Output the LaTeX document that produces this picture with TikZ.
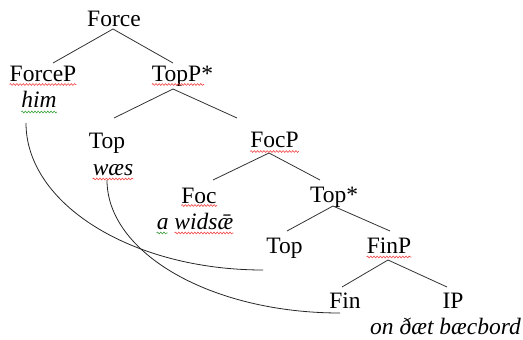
\documentclass[tikz,border=0pt]{standalone}
\usepackage{fontspec}
\setmainfont{Liberation Serif}
\usetikzlibrary{decorations.pathmorphing}
\begin{document}
\begin{tikzpicture}[x=1pt,y=1pt,
  lbl/.style={anchor=base,inner sep=0pt,font=\fontsize{23.5}{28}\selectfont},
  itl/.style={lbl,font=\fontsize{23.5}{28}\selectfont\itshape},
  edge/.style={draw=black!80,line width=0.8pt},
  arc/.style={draw=black!85,line width=0.8pt},
  sq/.style={decorate,decoration={snake,amplitude=0.9pt,segment length=3.2pt},line width=0.6pt},
  sqr/.style={sq,draw={rgb,255:red,240;green,70;blue,70}},
  sqg/.style={sq,draw={rgb,255:red,60;green,160;blue,60}}]
\useasboundingbox (0,0) rectangle (523,-340);
% nodes
\node[lbl] (Force)  at (114,-27)   {Force};
\node[lbl] (ForceP) at (43,-81)    {ForceP};
\node[itl] (him)    at (39,-107)   {him};
\node[lbl] (TopP)   at (182.5,-81) {TopP*};
\node[lbl] (TopA)   at (107,-148)  {Top};
\node[itl] (waes)   at (113,-175)  {wæs};
\node[lbl] (FocP)   at (274.5,-147){FocP};
\node[lbl] (Foc)    at (199,-203)  {Foc};
\node[itl] (widsae) at (195,-229)  {a widsǣ};
\node[lbl] (TopS)   at (334,-202)  {Top*};
\node[lbl] (TopB)   at (284.5,-253){Top};
\node[lbl] (FinP)   at (389,-253)  {FinP};
\node[lbl] (Fin)    at (345,-308)  {Fin};
\node[lbl] (IP)     at (453,-308)  {IP};
\node[itl] (onthat) at (445.5,-334){on ðæt bæcbord};
% tree edges
\draw[edge] ([shift={(-1pt,-2pt)}]Force.base) -- ([shift={(10pt,18pt)}]ForceP.base);
\draw[edge] ([shift={(-1pt,-2pt)}]Force.base) -- ([shift={(-9.5pt,18pt)}]TopP.base);
\draw[edge] ([shift={(-9.5pt,-8pt)}]TopP.base) -- ([shift={(7pt,30pt)}]TopA.base);
\draw[edge] ([shift={(-9.5pt,-8pt)}]TopP.base) -- ([shift={(-37.5pt,29pt)}]FocP.base);
\draw[edge] ([shift={(-5.5pt,-6pt)}]FocP.base) -- ([shift={(14pt,23pt)}]Foc.base);
\draw[edge] ([shift={(-5.5pt,-6pt)}]FocP.base) -- ([shift={(-14pt,22pt)}]TopS.base);
\draw[edge] ([shift={(-1pt,-4pt)}]TopS.base) -- ([shift={(2.5pt,22pt)}]TopB.base);
\draw[edge] ([shift={(-1pt,-4pt)}]TopS.base) -- ([shift={(1pt,22pt)}]FinP.base);
\draw[edge] ([shift={(-1pt,-7pt)}]FinP.base) -- ([shift={(-3pt,21pt)}]Fin.base);
\draw[edge] ([shift={(-1pt,-7pt)}]FinP.base) -- ([shift={(-6pt,21pt)}]IP.base);
% movement arcs
\draw[arc] ([shift={(-13pt,-16pt)}]him.base) .. controls +(0,-81) and +(-131,0) .. ([shift={(-21.5pt,-17pt)}]TopB.base);
\draw[arc] ([shift={(-6pt,-5pt)}]waes.base) .. controls +(0,-73) and +(-129,0) .. ([shift={(-5pt,-5pt)}]Fin.base);
% spell-check squiggles
\draw[sqr] ([yshift=-3.5pt]ForceP.base west) -- ([yshift=-3.5pt]ForceP.base east);
\draw[sqg] ([yshift=-5pt]him.base west) -- ([yshift=-5pt]him.base east);
\draw[sqr] ([yshift=-3.5pt]TopP.base west) -- ([xshift=-9pt,yshift=-3.5pt]TopP.base east);
\draw[sqr] ([yshift=-4pt]waes.base west) -- ([yshift=-4pt]waes.base east);
\draw[sqr] ([yshift=-4.5pt]FocP.base west) -- ([yshift=-4.5pt]FocP.base east);
\draw[sqr] ([yshift=-2.5pt]Foc.base west) -- ([yshift=-2.5pt]Foc.base east);
\draw[sqg] ([yshift=-4pt]widsae.base west) -- ([xshift=11pt,yshift=-4pt]widsae.base west);
\draw[sqr] ([xshift=18pt,yshift=-4pt]widsae.base west) -- ([yshift=-4pt]widsae.base east);
\draw[sqr] ([yshift=-4pt]FinP.base west) -- ([yshift=-4pt]FinP.base east);
\end{tikzpicture}
\end{document}
